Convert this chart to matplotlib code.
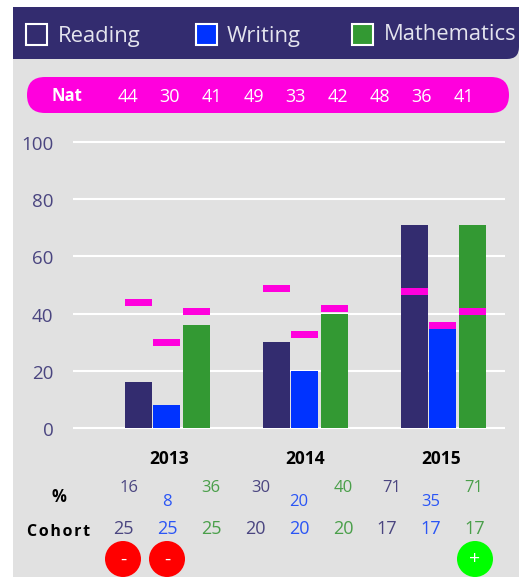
#!/usr/bin/env python3
import matplotlib
matplotlib.use('Agg')
import matplotlib.pyplot as plt
from matplotlib.patches import Rectangle, FancyBboxPatch, Circle
from matplotlib.transforms import ScaledTranslation

plt.rcParams['font.family'] = ['Open Sans', 'DejaVu Sans']

years = ['2013', '2014', '2015']
subjects = ['Reading', 'Writing', 'Mathematics']
reading = [16, 30, 71]
writing = [8, 20, 35]
maths = [36, 40, 71]
nat_reading = [44, 49, 48]
nat_writing = [30, 33, 36]
nat_maths = [41, 42, 41]
nat_labels = [44, 30, 41, 49, 33, 42, 48, 36, 41]
pct_labels = [16, 8, 36, 30, 20, 40, 71, 35, 71]
cohort_labels = [25, 25, 25, 20, 20, 20, 17, 17, 17]
flags = ['-', '-', '', '', '', '', '', '', '+']
yticks = [0, 20, 40, 60, 80, 100]

NAVY = '#332c6f'
BLUE = '#0033ff'
GREEN = '#339933'
MAGENTA = '#ff00dd'
GREY = '#e1e1e1'
W, H = 519, 577

fig = plt.figure(figsize=(W / 100, H / 100), dpi=100, facecolor='white')

# page furniture lives on a pixel-coordinate axes behind the chart
bg = fig.add_axes([0, 0, 1, 1], zorder=0)
bg.set_xlim(0, W)
bg.set_ylim(H, 0)
bg.axis('off')

bg.add_patch(Rectangle((13, 7), W - 13, H - 7, fc=GREY, ec='none'))
bg.add_patch(FancyBboxPatch((25, 19), W - 37, 28, boxstyle='round,pad=12,rounding_size=12',
                            fc=NAVY, ec='none'))
bg.add_patch(Rectangle((13, 7), 40, 52, fc=NAVY, ec='none'))
bg.add_patch(Rectangle((W - 40, 7), 40, 30, fc=NAVY, ec='none'))

# legend
for name, col, bx, tx, ty in zip(subjects, [NAVY, BLUE, GREEN], [26, 196, 352], [58, 227, 384], [36.5, 36.5, 34.5]):
    bg.add_patch(Rectangle((bx, 24), 21, 21, fc=col, ec='white', lw=1.5))
    bg.text(tx, ty, name, color='#e4e4ee', fontsize=15.8, va='center', ha='left')

# national row
bg.add_patch(FancyBboxPatch((27, 77), 482, 36, boxstyle='round,pad=0,rounding_size=18',
                            fc=MAGENTA, ec='none'))
bg.text(67, 96, 'Nat', color='white', fontsize=12, fontweight='bold', ha='center', va='center')
for i, v in enumerate(nat_labels):
    bg.text(128 + 42 * i, 96.5, str(v), color='white', fontsize=13, ha='center', va='center')

# chart
y0, px_per_unit = 428.3, 2.867
ax_bottom = y0 + 5 * px_per_unit
ax_top = y0 - 105 * px_per_unit
ax = fig.add_axes([73 / W, 1 - ax_bottom / H, 432 / W, (ax_bottom - ax_top) / H], zorder=1)
ax.patch.set_alpha(0)
ax.set_ylim(-5, 105)
ax.set_xlim(-0.685, 2.446)

width = 27 / 138
offs = [-29 / 138, -1 / 138, 29 / 138]
for k, (vals, nat, col) in enumerate(zip([reading, writing, maths],
                                         [nat_reading, nat_writing, nat_maths],
                                         [NAVY, BLUE, GREEN])):
    xs = [i + offs[k] for i in range(len(years))]
    ax.bar(xs, vals, width=width, color=col, zorder=2)
    ax.bar(xs, [2.45] * 3, bottom=[n - 1.4 for n in nat], width=width, color=MAGENTA, zorder=3)

for s in ax.spines.values():
    s.set_visible(False)
ax.set_yticks(yticks)
ax.grid(axis='y', color='white', lw=1.5, zorder=1)
ax.set_axisbelow(True)
ax.tick_params(axis='y', length=0, pad=14, labelsize=13.5, labelcolor='#4a4580')
nudge = ScaledTranslation(0, -0.7 / 72, fig.dpi_scale_trans)
for lab in ax.get_yticklabels():
    lab.set_transform(lab.get_transform() + nudge)
ax.set_xticks([0.011, 0.996, 1.98])
ax.set_xticklabels(years, fontweight='bold', fontsize=12.5, color='black')
ax.tick_params(axis='x', length=0, pad=5.3)

# table under the chart
pct_x = [129, 167, 211, 261, 299, 343, 392, 431, 474]
row_cols = ['#4a4580', '#2a55f5', '#4a9f4a']
for i, v in enumerate(pct_labels):
    y = 502.5 if i % 3 == 1 else 488.5
    bg.text(pct_x[i], y, str(v), color=row_cols[i % 3], fontsize=12, ha='center', va='center')
for i, v in enumerate(cohort_labels):
    x = 123 + 44 * i
    bg.text(x, 529, str(v), color=row_cols[i % 3], fontsize=13, ha='center', va='center')
    if flags[i]:
        col = '#ff0000' if flags[i] == '-' else '#00ff00'
        bg.add_patch(Circle((x, 559), 18, fc=col, ec='none'))
        bg.text(x, 559.5, flags[i], color='white', fontsize=14, ha='center', va='center')

bg.text(59, 497.5, '%', color='black', fontsize=12, fontweight='bold', ha='center', va='center')
bg.text(59, 532, '\u200a'.join('Cohort'), color='black', fontsize=11.5, fontweight='bold', ha='center', va='center')

fig.savefig('out.png', dpi=100)
